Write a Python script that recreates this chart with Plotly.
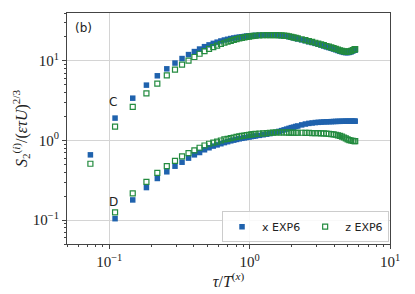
import math
import plotly.graph_objects as go

tau = [0.0734, 0.110, 0.147, 0.184, 0.220, 0.257, 0.294, 0.330, 0.367, 0.404,
       0.440, 0.477, 0.514, 0.551, 0.587, 0.624, 0.661, 0.697, 0.734, 0.771,
       0.807, 0.844, 0.881, 0.918, 0.954, 0.991, 1.028, 1.064, 1.101,
       1.174, 1.248, 1.321, 1.395, 1.468, 1.541, 1.615, 1.688, 1.762, 1.835,
       1.908, 1.982, 2.055, 2.129, 2.202,
       2.349, 2.496, 2.642, 2.789, 2.936, 3.083, 3.230, 3.376, 3.523, 3.670,
       3.817, 3.964, 4.110, 4.257, 4.404, 4.551, 4.698, 4.844, 4.991, 5.138,
       5.285, 5.432, 5.578, 5.652]

x_C = [0.66, 1.91, 3.4, 4.96, 6.5, 7.95, 9.4, 10.7, 12.0, 13.1,
       14.1, 15.1, 15.9, 16.6, 17.2, 17.8, 18.3, 18.7, 19.1, 19.4,
       19.7, 19.9, 20.1, 20.3, 20.5, 20.6, 20.7, 20.8, 20.9,
       21.0, 21.1, 21.1, 21.1, 21.1, 21.0, 20.9, 20.8, 20.6, 20.4,
       20.1, 19.8, 19.5, 19.2, 18.9,
       18.4, 17.9, 17.4, 17.0, 16.6, 16.2, 15.8, 15.4, 15.0, 14.7,
       14.4, 14.1, 13.8, 13.5, 13.2, 13.0, 12.8, 12.7, 12.7, 12.8,
       13.0, 13.3, 13.6, 13.7]

z_C = [0.51, 1.49, 2.65, 3.9, 5.17, 6.57, 7.75, 8.96, 10.1, 11.2,
       12.3, 13.3, 14.2, 14.9, 15.6, 16.3, 16.9, 17.4, 17.9, 18.4,
       18.8, 19.2, 19.5, 19.8, 20.0, 20.2, 20.4, 20.6, 20.7,
       20.9, 21.0, 21.1, 21.1, 21.1, 21.1, 21.0, 20.9, 20.8, 20.6,
       20.4, 20.1, 19.8, 19.5, 19.2,
       18.7, 18.2, 17.7, 17.3, 16.9, 16.5, 16.1, 15.8, 15.4, 15.1,
       14.8, 14.5, 14.2, 13.9, 13.6, 13.4, 13.2, 13.1, 13.1, 13.2,
       13.4, 13.7, 14.0, 14.1]

x_D = [None, 0.104, 0.179, 0.256, 0.333, 0.404, 0.475, 0.533, 0.60, 0.66,
       0.706, 0.764, 0.81, 0.85, 0.88, 0.91, 0.94, 0.965, 0.99, 1.01,
       1.03, 1.05, 1.065, 1.08, 1.095, 1.105, 1.12, 1.13, 1.14,
       1.16, 1.18, 1.20, 1.22, 1.25, 1.27, 1.30, 1.33, 1.36, 1.39,
       1.42, 1.45, 1.47, 1.50, 1.52,
       1.57, 1.61, 1.64, 1.66, 1.68, 1.69, 1.70, 1.71, 1.715, 1.72,
       1.725, 1.73, 1.735, 1.74, 1.74, 1.745, 1.745, 1.75, 1.75, 1.75,
       1.75, 1.75, 1.75, 1.75]

z_D = [None, 0.125, 0.216, 0.302, 0.392, 0.475, 0.555, 0.63, 0.693, 0.749,
       0.81, 0.865, 0.909, 0.94, 0.97, 1.0, 1.03, 1.05, 1.07, 1.09,
       1.11, 1.125, 1.14, 1.155, 1.165, 1.18, 1.19, 1.20, 1.21,
       1.22, 1.23, 1.24, 1.25, 1.255, 1.26, 1.26, 1.26, 1.26, 1.26,
       1.255, 1.255, 1.25, 1.25, 1.25,
       1.25, 1.245, 1.245, 1.24, 1.24, 1.235, 1.23, 1.225, 1.22, 1.21,
       1.20, 1.19, 1.18, 1.16, 1.14, 1.12, 1.09, 1.06, 1.03, 1.01,
       1.00, 0.99, 0.98, 0.98]

series_labels = ["x EXP6", "z EXP6"]
xtick_vals = [0.1, 1, 10]
xtick_text = ["10<sup>−1</sup>", "10<sup>0</sup>", "10<sup>1</sup>"]
ytick_vals = [0.1, 1, 10]
ytick_text = ["10<sup>−1</sup>", "10<sup>0</sup>", "10<sup>1</sup>"]

BLUE = "#1f62ad"
GREEN = "#238b3f"
SERIF = "Liberation Serif, DejaVu Serif, serif"
SANS = "DejaVu Sans, sans-serif"

fig = go.Figure()
for i, ys in enumerate([x_C, x_D]):
    fig.add_trace(go.Scatter(
        x=tau, y=ys, mode="markers", name=series_labels[0],
        showlegend=(i == 0), legendgroup="x",
        marker=dict(symbol="square", size=5.5, color=BLUE, line=dict(width=0))))
for i, ys in enumerate([z_C, z_D]):
    fig.add_trace(go.Scatter(
        x=tau, y=ys, mode="markers", name=series_labels[1],
        showlegend=(i == 0), legendgroup="z",
        marker=dict(symbol="square-open", size=5, color=GREEN,
                    line=dict(width=1.2, color=GREEN))))

minor_vals = [m * 10 ** e for e in (-2, -1, 0, 1) for m in range(2, 10)]

axis_common = dict(
    type="log", showline=True, linecolor="#444", linewidth=1, mirror=True,
    ticks="outside", ticklen=4, tickcolor="#444",
    showgrid=True, gridcolor="#d4d4d4", gridwidth=1, zeroline=False,
    tickfont=dict(family=SERIF, size=15, color="#222"),
    minor=dict(tickmode="array", tickvals=minor_vals, ticks="outside",
               ticklen=2, tickcolor="#444", showgrid=False),
)

fig.update_xaxes(**axis_common, range=[-1.301, 1.0],
                 tickmode="array", tickvals=xtick_vals, ticktext=xtick_text,
                 title=dict(text="<i>τ</i>/<i>T</i><sup>(<i>x</i>)</sup>", standoff=0,
                            font=dict(family=SERIF, size=16, color="#222")))
fig.update_yaxes(**axis_common, range=[-1.301, 1.602],
                 tickmode="array", tickvals=ytick_vals, ticktext=ytick_text,
                 title=dict(text="<i>S</i><sub>2</sub><sup>(<i>i</i>)</sup>/(<i>ετU</i>)<sup>2/3</sup>",
                            standoff=1,
                            font=dict(family=SERIF, size=16, color="#222")))

fig.add_annotation(x=0.02, y=0.975, xref="paper", yref="paper", text="(b)",
                   showarrow=False, xanchor="left", yanchor="top",
                   font=dict(family=SANS, size=12, color="#222"))
fig.add_annotation(x=math.log10(0.106), y=math.log10(3.05), xref="x", yref="y", text="C",
                   showarrow=False, font=dict(family=SANS, size=12, color="#222"))
fig.add_annotation(x=math.log10(0.107), y=math.log10(0.17), xref="x", yref="y", text="D",
                   showarrow=False, font=dict(family=SANS, size=12, color="#222"))

fig.update_layout(
    width=407, height=286,
    margin=dict(l=59, r=25, t=5, b=50),
    paper_bgcolor="white", plot_bgcolor="white",
    legend=dict(orientation="h", x=0.997, y=0.008, xanchor="right", yanchor="bottom",
                bgcolor="rgba(255,255,255,0.85)", bordercolor="#cccccc", borderwidth=1,
                font=dict(family=SANS, size=11, color="#222"),
                itemwidth=30, tracegroupgap=0),
)

fig.write_html("out.html")
